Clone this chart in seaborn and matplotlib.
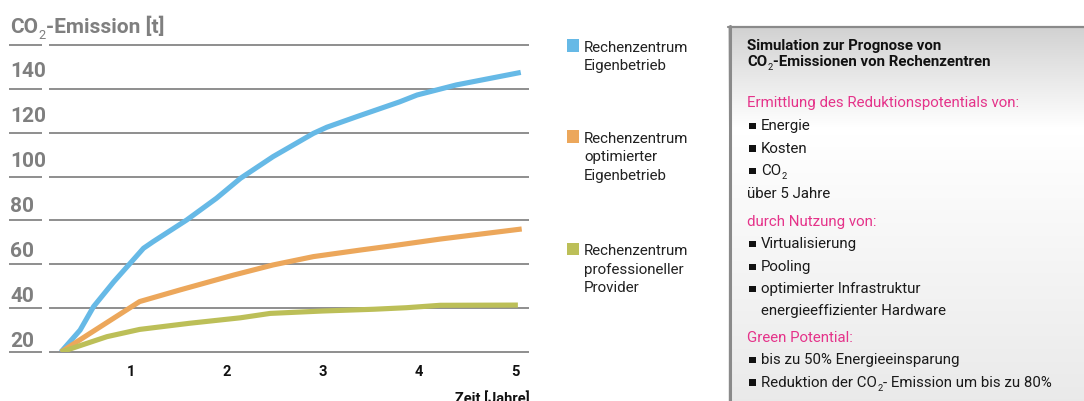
import numpy as np
import pandas as pd
import matplotlib
matplotlib.use("Agg")
import matplotlib.pyplot as plt
import seaborn as sns
from matplotlib.patches import Rectangle
from matplotlib.lines import Line2D

# ---------------- data ----------------
series_names = ["Rechenzentrum Eigenbetrieb",
                "Rechenzentrum optimierter Eigenbetrieb",
                "Rechenzentrum professioneller Provider"]
legend_lines = [["Rechenzentrum", "Eigenbetrieb"],
                ["Rechenzentrum", "optimierter", "Eigenbetrieb"],
                ["Rechenzentrum", "professioneller", "Provider"]]
series_colors = ["#66b9e6", "#eca75b", "#bcbf58"]

blue_years = [0.27, 0.47, 0.61, 0.82, 1.13, 1.23, 1.58, 1.89, 2.14, 2.48,
              2.90, 3.04, 3.35, 3.80, 3.98, 4.39, 5.06]
blue_values = [20, 30, 40.7, 52, 67.3, 70.3, 80.2, 90.1, 99.2, 109.1,
               119.7, 122.5, 127.3, 134.1, 137.2, 141.8, 147.5]
orange_years = [0.27, 1.09, 1.51, 2.07, 2.48, 2.90, 3.39, 3.70, 4.22, 5.07]
orange_values = [20, 43.0, 48.3, 55.1, 59.7, 63.5, 66.5, 68.3, 71.5, 76.1]
green_years = [0.27, 0.75, 1.09, 1.61, 2.14, 2.45, 3.00, 3.53, 3.87, 4.22, 5.03]
green_values = [20, 27.0, 30.3, 33.1, 35.6, 37.6, 38.7, 39.5, 40.2, 41.3, 41.4]

x_ticks = [1, 2, 3, 4, 5]
y_ticks = [20, 40, 60, 80, 100, 120, 140]
grid_values = [20, 40, 60, 80, 100, 120, 140, 160]
y_title = ("CO", "2", "-Emission [t]")
x_title = "Zeit [Jahre]"

panel_title = [("Simulation zur Prognose von",), ("CO", "2", "-Emissionen von Rechenzentren")]
panel_head1 = "Ermittlung des Reduktionspotentials von:"
panel_items1 = [("Energie",), ("Kosten",), ("CO", "2")]
panel_after1 = "über 5 Jahre"
panel_head2 = "durch Nutzung von:"
panel_items2 = [("Virtualisierung",), ("Pooling",), ("optimierter Infrastruktur",)]
panel_cont2 = "energieeffizienter Hardware"
panel_head3 = "Green Potential:"
panel_items3 = [("bis zu 50% Energieeinsparung",),
                ("Reduktion der CO", "2", "- Emission um bis zu 80%")]

# ---------------- style ----------------
sns.set_style("white")
FONT = ["Roboto", "DejaVu Sans"]
plt.rcParams["font.family"] = FONT

W, H = 1084, 401
fig = plt.figure(figsize=(W / 100, H / 100), dpi=100)

def fx(x):
    return x / W

def fy(y):
    return 1 - y / H

# main axes: x px 49..529, y px 45 (160) .. 352 (20)
ax = fig.add_axes([fx(49), fy(352), (529 - 49) / W, (352 - 45) / H])
ax.set_facecolor("none")
ax.set_ylim(20, 160)
ax.set_xlim((49 - 35) / 96, (529 - 35) / 96)

df = pd.concat([
    pd.DataFrame({"Jahr": blue_years, "t": blue_values, "Serie": series_names[0]}),
    pd.DataFrame({"Jahr": orange_years, "t": orange_values, "Serie": series_names[1]}),
    pd.DataFrame({"Jahr": green_years, "t": green_values, "Serie": series_names[2]}),
])
sns.lineplot(data=df, x="Jahr", y="t", hue="Serie", palette=series_colors,
             hue_order=series_names, estimator=None, sort=False, legend=False,
             linewidth=3.7, ax=ax, zorder=3)
for ln in ax.get_lines():
    ln.set_solid_capstyle("butt")
    ln.set_solid_joinstyle("round")

grid_col = "#8e8e8e"
ax.hlines(grid_values, 0, 1, transform=ax.get_yaxis_transform(), color=grid_col,
          lw=1.4, clip_on=False, zorder=1)
ax.hlines(grid_values, (9 - 49) / 480, (42 - 49) / 480, transform=ax.get_yaxis_transform(),
          color=grid_col, lw=1.4, clip_on=False, zorder=1)

for s in ax.spines.values():
    s.set_visible(False)
ax.set_yticks([])
ax.set_xticks(x_ticks)
ax.set_xticklabels([str(v) for v in x_ticks], fontsize=10.5, fontweight="bold", color="#111111")
ax.tick_params(axis="x", length=0, pad=9)
ax.set_xlabel("")
ax.set_ylabel("")

ylab_trans = matplotlib.transforms.blended_transform_factory(fig.transFigure, ax.transData)
for v in y_ticks:
    ax.text(fx(10), v + 5 + (v - 20) * 0.0225, str(v), transform=ylab_trans,
            ha="left", va="center", fontsize=15, fontweight="bold", color="#7f7f7f")

# ---------------- overlay for panel + texts ----------------
ov = fig.add_axes([0, 0, 1, 1])
ov.set_xlim(0, W)
ov.set_ylim(H, 0)
ov.set_axis_off()

# panel background gradient, one band per pixel row
top_y = 27
rows = np.arange(top_y, H)
frac = (rows - top_y) / (H - top_y)
shade = np.interp(frac, [0.0, 0.27, 1.0], [0.82, 1.0, 0.915])
for r, sh in zip(rows, shade):
    ov.add_patch(Rectangle((728, r), W - 728, 1.05, facecolor=(sh, sh, sh),
                           edgecolor="none", lw=0, zorder=0))

border = "#8a8a8a"
ov.add_line(Line2D([729.5, 729.5], [26, 401], color=border, lw=2.2, zorder=2))
ov.add_line(Line2D([728, 1084], [27, 27], color=border, lw=1.6, zorder=2))

renderer = fig.canvas.get_renderer()

def seq(x, y, parts, fontsize, weight="normal", color="#1a1a1a"):
    for i, s in enumerate(parts):
        if i % 2 == 1:
            t = ov.text(x + 0.5, y + fontsize * 0.38, s, fontsize=fontsize * 0.62,
                        fontweight="normal", color=color, va="baseline", ha="left", zorder=3)
        else:
            t = ov.text(x, y, s, fontsize=fontsize, fontweight=weight, color=color,
                        va="baseline", ha="left", zorder=3)
        bb = t.get_window_extent(renderer)
        x = ov.transData.inverted().transform((bb.x1, bb.y0))[0]
        if i % 2 == 1:
            x += 0.5
    return x

# chart title
seq(10, 33, list(y_title), 15, weight="bold", color="#7f7f7f")
ov.text(530, 403, x_title, fontsize=10.5, fontweight="bold", color="#111111",
        ha="right", va="baseline")

# legend
legend_base = [51.7, 142.7, 255]
for lines, col, b in zip(legend_lines, series_colors, legend_base):
    ov.add_patch(Rectangle((567, b - 12.5), 12, 12.5, color=col, lw=0))
    for k, s in enumerate(lines):
        ov.text(584, b + k * 18.7, s, fontsize=10.9, color="#222222",
                va="baseline", ha="left")

# panel text
magenta = "#e5338a"
PX = 747
BX = 761
body = 10.8

seq(PX, 50, list(panel_title[0]), 10.8, weight="bold", color="#111111")
seq(PX, 66, list(panel_title[1]), 10.8, weight="bold", color="#111111")

def bullet(b):
    ov.add_patch(Rectangle((749, b - 7.3), 6.7, 6.3, color="#111111", lw=0, zorder=3))

ov.text(PX, 107.5, panel_head1, fontsize=body, color=magenta, va="baseline", zorder=3)
for it, b in zip(panel_items1, [130, 152.7, 175]):
    bullet(b)
    seq(BX, b, list(it), body)
ov.text(PX, 197.7, panel_after1, fontsize=body, color="#1a1a1a", va="baseline", zorder=3)

ov.text(PX, 226, panel_head2, fontsize=body, color=magenta, va="baseline", zorder=3)
for it, b in zip(panel_items2, [248.3, 271, 293.3]):
    bullet(b)
    seq(BX, b, list(it), body)
ov.text(BX, 315, panel_cont2, fontsize=body, color="#1a1a1a", va="baseline", zorder=3)

ov.text(PX, 341.7, panel_head3, fontsize=body, color=magenta, va="baseline", zorder=3)
for it, b in zip(panel_items3, [364.3, 386.7]):
    bullet(b)
    seq(BX, b, list(it), body)

fig.savefig("out.png", dpi=100)
